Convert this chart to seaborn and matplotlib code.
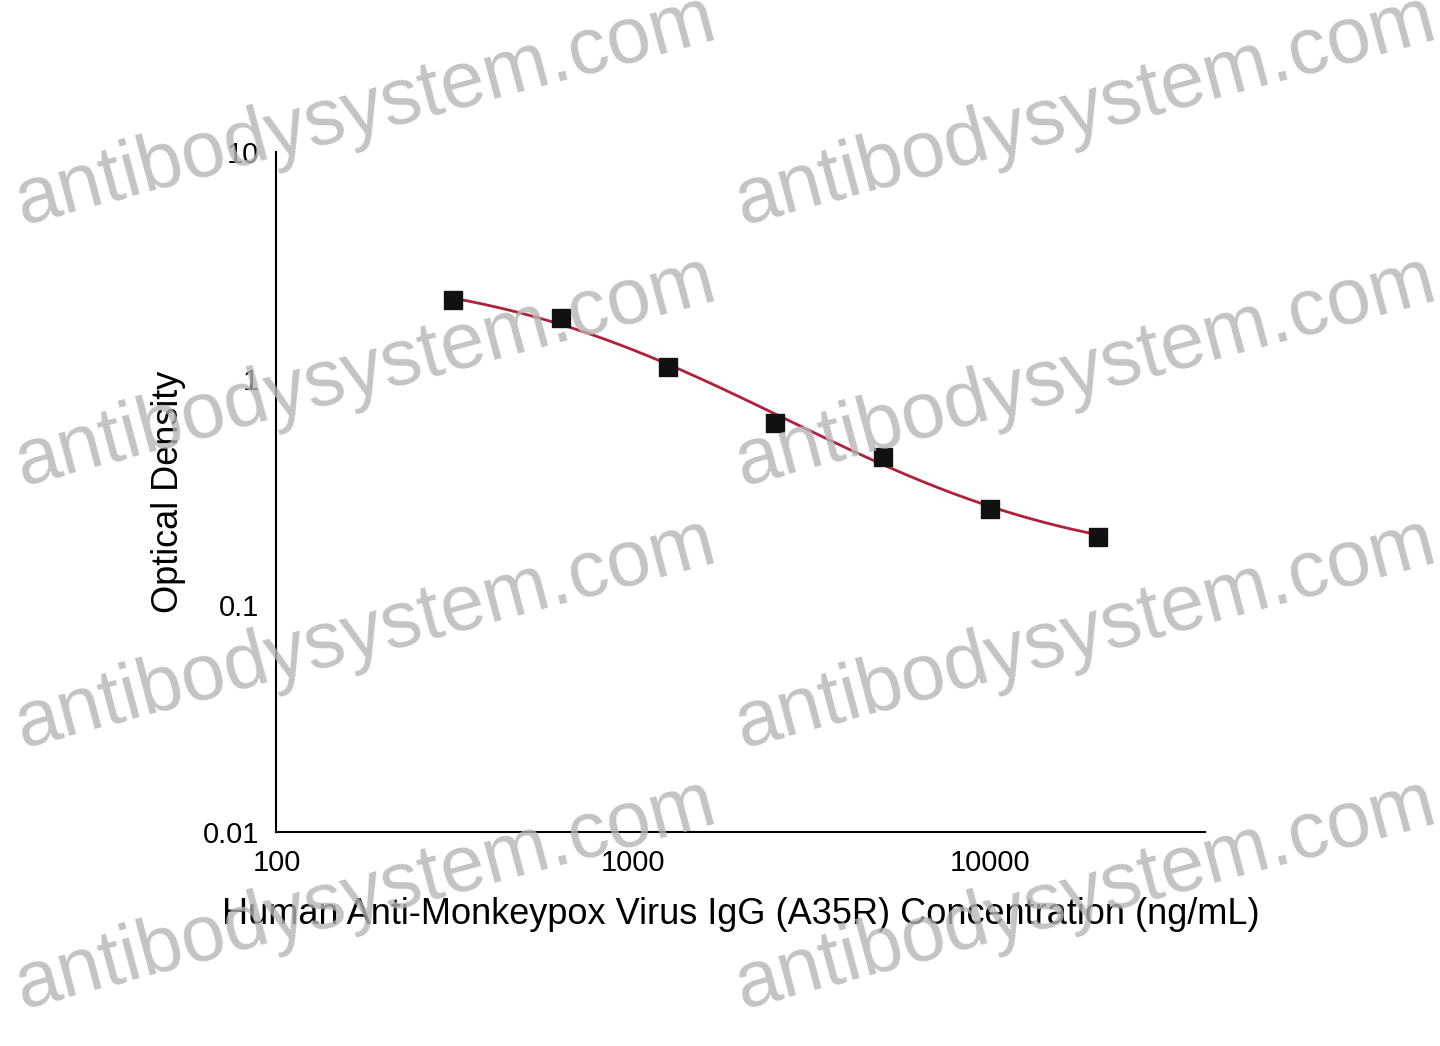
import numpy as np
import matplotlib
matplotlib.use("Agg")
import matplotlib.pyplot as plt
import seaborn as sns
from matplotlib.ticker import FixedLocator, FixedFormatter, LogLocator, NullFormatter

# Data
concentration = [312.5, 625, 1250, 2500, 5000, 10000, 20000]
optical_density = [2.22, 1.85, 1.13, 0.64, 0.45, 0.265, 0.20]
x_ticks = [100, 1000, 10000]
x_tick_labels = ["100", "1000", "10000"]
y_ticks = [0.01, 0.1, 1, 10]
y_tick_labels = ["0.01", "0.1", "1", "10"]


# 4PL fit by coarse grid search on log(OD)
def four_pl(x, top, bottom, ec50, hill):
    return bottom + (top - bottom) / (1 + (x / ec50) ** hill)


def fit_4pl(x, y):
    x = np.asarray(x)
    ly = np.log(np.asarray(y))
    best, best_err = None, np.inf
    for top in np.linspace(2.0, 3.0, 21):
        for bottom in np.linspace(0.1, 0.3, 21):
            for ec50 in np.geomspace(500, 5000, 40):
                for hill in np.linspace(0.6, 2.5, 39):
                    err = np.sum((np.log(four_pl(x, top, bottom, ec50, hill)) - ly) ** 2)
                    if err < best_err:
                        best, best_err = (top, bottom, ec50, hill), err
    return best


params = fit_4pl(concentration, optical_density)
x_fit = np.geomspace(concentration[0], concentration[-1], 300)
y_fit = four_pl(x_fit, *params)

sns.set_style("white")
plt.rcParams["font.family"] = ["Liberation Sans", "DejaVu Sans"]

fig = plt.figure(figsize=(14.4, 10.46), dpi=100)
ax = fig.add_axes([0.192, 0.2046, 0.645, 0.65])

sns.lineplot(x=x_fit, y=y_fit, ax=ax, color="#b0203a", linewidth=2)
sns.scatterplot(x=concentration, y=optical_density, ax=ax, marker="s", s=150,
                color="#111111", edgecolor="#111111", zorder=5)

ax.set_xscale("log")
ax.set_yscale("log")
ax.set_xlim(100, 40000)
ax.set_ylim(0.01, 10)
ax.xaxis.set_major_locator(FixedLocator(x_ticks))
ax.xaxis.set_major_formatter(FixedFormatter(x_tick_labels))
ax.xaxis.set_minor_locator(LogLocator(base=10, subs=np.arange(2, 10)))
ax.xaxis.set_minor_formatter(NullFormatter())
ax.yaxis.set_major_locator(FixedLocator(y_ticks))
ax.yaxis.set_major_formatter(FixedFormatter(y_tick_labels))
ax.yaxis.set_minor_locator(LogLocator(base=10, subs=np.arange(2, 10)))
ax.yaxis.set_minor_formatter(NullFormatter())
ax.tick_params(which="major", direction="out", length=9, width=1.5, labelsize=21,
               color="black", labelcolor="black")
ax.tick_params(which="minor", direction="out", length=5, width=1.2, color="black")

for side in ["top", "right"]:
    ax.spines[side].set_visible(False)
for side in ["left", "bottom"]:
    ax.spines[side].set_color("black")
    ax.spines[side].set_linewidth(1.5)

ax.set_xlabel("Human Anti-Monkeypox Virus IgG (A35R) Concentration (ng/mL)",
              fontsize=26, labelpad=14, color="black")
ax.set_ylabel("Optical Density", fontsize=26, labelpad=12, color="black")

# watermarks
for x0 in [0.005, 0.505]:
    for y0 in [0.77, 0.52, 0.27, 0.02]:
        fig.text(x0, y0, "antibodysystem.com", fontsize=57, color="#b5b5b5",
                 alpha=0.8, rotation=15, ha="left", va="bottom",
                 family=["Liberation Sans", "DejaVu Sans"], zorder=10)

fig.savefig("out.png", dpi=100)
